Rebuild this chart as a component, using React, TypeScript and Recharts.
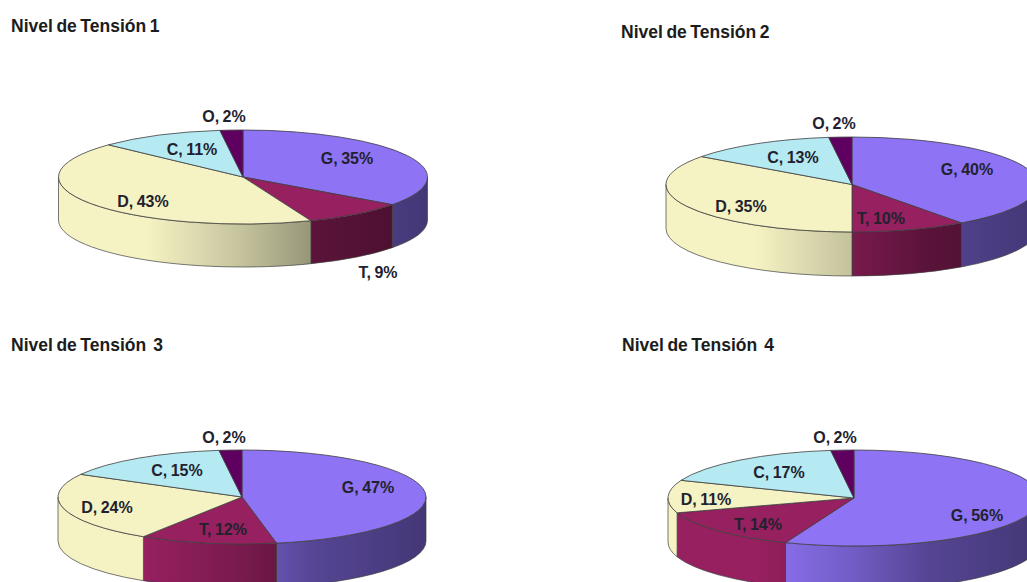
import React from 'react';
import { PieChart, Pie } from 'recharts';

// Cost components and their share (%) for each voltage level
const sliceNames = ['G', 'T', 'D', 'C', 'O'];
const nivel1 = [35, 9, 43, 11, 2];
const nivel2 = [40, 10, 35, 13, 2];
const nivel3 = [47, 12, 24, 15, 2];
const nivel4 = [56, 14, 11, 17, 2];

const titles = ['Nivel de Tensión 1', 'Nivel de Tensión 2', 'Nivel de Tensión  3', 'Nivel de Tensión  4'];

const sliceColors: Record<string, number[]> = {
  G: [142, 115, 245],
  T: [150, 32, 96],
  D: [245, 243, 195],
  C: [181, 234, 242],
  O: [95, 0, 96],
};

// Lighting of the pie's side wall, from its left edge to its right edge
const wallShade: [number, number][] = [
  [0, 1],
  [0.24, 1],
  [0.5, 0.8],
  [0.7, 0.6],
  [1, 0.48],
];

const toRgb = (c: number[], k = 1) =>
  `rgb(${Math.round(c[0] * k)},${Math.round(c[1] * k)},${Math.round(c[2] * k)})`;

type Layout = {
  id: string;
  values: number[];
  title: string;
  titleX: number;
  titleY: number;
  cx: number;
  cy: number;
  rx: number;
  ry: number;
  depth: number;
  labels: Record<string, [number, number]>;
};

const layouts: Layout[] = [
  {
    id: 'n1', values: nivel1, title: titles[0], titleX: 11, titleY: 32,
    cx: 243, cy: 177, rx: 184.5, ry: 47, depth: 43,
    labels: { G: [347, 158], T: [378, 272], D: [143, 201], C: [192, 149], O: [224, 116] },
  },
  {
    id: 'n2', values: nivel2, title: titles[1], titleX: 621, titleY: 38,
    cx: 852, cy: 184.5, rx: 186, ry: 47.5, depth: 44,
    labels: { G: [967, 169], T: [881, 218], D: [741, 206], C: [793, 157], O: [834, 123] },
  },
  {
    id: 'n3', values: nivel3, title: titles[2], titleX: 11, titleY: 351,
    cx: 242, cy: 497, rx: 184, ry: 47, depth: 44,
    labels: { G: [368, 487], T: [223, 529], D: [107, 507], C: [177, 470], O: [224, 437] },
  },
  {
    id: 'n4', values: nivel4, title: titles[3], titleX: 622, titleY: 351,
    cx: 854, cy: 498, rx: 186, ry: 48, depth: 44,
    labels: { G: [977, 515], T: [758, 524], D: [706, 499], C: [779, 472], O: [835, 437] },
  },
];

const rimColor = '#3f3f3f';

// Draws one slice as an elliptical wedge plus its visible piece of side wall
function makeSlice(l: Layout) {
  return function Slice(props: any) {
    const { cx, cy, startAngle, endAngle, outerRadius, name } = props;
    const rx = outerRadius;
    const ry = l.ry;
    const color = sliceColors[name];
    const at = (deg: number, dy = 0) => {
      const a = (deg * Math.PI) / 180;
      return `${cx + rx * Math.cos(a)} ${cy - ry * Math.sin(a) + dy}`;
    };
    const large = Math.abs(startAngle - endAngle) > 180 ? 1 : 0;
    const top = `M ${cx} ${cy} L ${at(startAngle)} A ${rx} ${ry} 0 ${large} 1 ${at(endAngle)} Z`;

    // Only the part of the rim facing the viewer (-180..0 degrees) shows a wall
    const from = Math.min(startAngle, 0);
    const to = Math.max(endAngle, -180);
    const hasWall = from > to;
    const gradId = `wall-${l.id}-${name}`;
    const wall = hasWall
      ? `M ${at(from)} A ${rx} ${ry} 0 0 1 ${at(to)} L ${at(to, l.depth)} A ${rx} ${ry} 0 0 0 ${at(from, l.depth)} Z`
      : '';

    return (
      <g>
        {hasWall && (
          <>
            <defs>
              <linearGradient id={gradId} gradientUnits="userSpaceOnUse" x1={cx - rx} x2={cx + rx} y1={0} y2={0}>
                {wallShade.map(([o, k]) => (
                  <stop key={o} offset={o} stopColor={toRgb(color, k)} />
                ))}
              </linearGradient>
            </defs>
            <path d={wall} fill={`url(#${gradId})`} stroke={rimColor} strokeWidth={0.7} />
          </>
        )}
        <path d={top} fill={toRgb(color)} stroke={rimColor} strokeWidth={0.8} strokeLinejoin="round" />
      </g>
    );
  };
}

function makeLabel(l: Layout) {
  return function SliceLabel(props: any) {
    const { name, value } = props;
    const [x, y] = l.labels[name];
    return (
      <text
        x={x}
        y={y}
        textAnchor="middle"
        dominantBaseline="central"
        fontFamily="'Liberation Sans', Arial, sans-serif"
        fontWeight={700}
        fontSize={16}
        wordSpacing={-1}
        fill="#22222e"
      >
        {`${name}, ${value}%`}
      </text>
    );
  };
}

export default function App() {
  return (
    <div style={{ position: 'absolute', left: 0, top: 0, width: 1027, height: 582, background: '#fff', overflow: 'hidden' }}>
      <PieChart width={1027} height={582} margin={{ top: 0, right: 0, bottom: 0, left: 0 }}>
        {layouts.map((l) => (
          <Pie
            key={l.id}
            data={sliceNames.map((name, i) => ({ name, value: l.values[i] }))}
            dataKey="value"
            nameKey="name"
            cx={l.cx}
            cy={l.cy}
            innerRadius={0}
            outerRadius={l.rx}
            startAngle={90}
            endAngle={-270}
            paddingAngle={0}
            isAnimationActive={false}
            shape={makeSlice(l)}
            label={makeLabel(l)}
            labelLine={false}
          />
        ))}
        {layouts.map((l) => (
          <text
            key={`title-${l.id}`}
            x={l.titleX}
            y={l.titleY}
            fontFamily="'Liberation Sans', Arial, sans-serif"
            fontWeight={700}
            fontSize={17.5}
            wordSpacing={-1.3}
            fill="#1c1c1c"
            style={{ whiteSpace: 'pre' }}
          >
            {l.title}
          </text>
        ))}
      </PieChart>
    </div>
  );
}
